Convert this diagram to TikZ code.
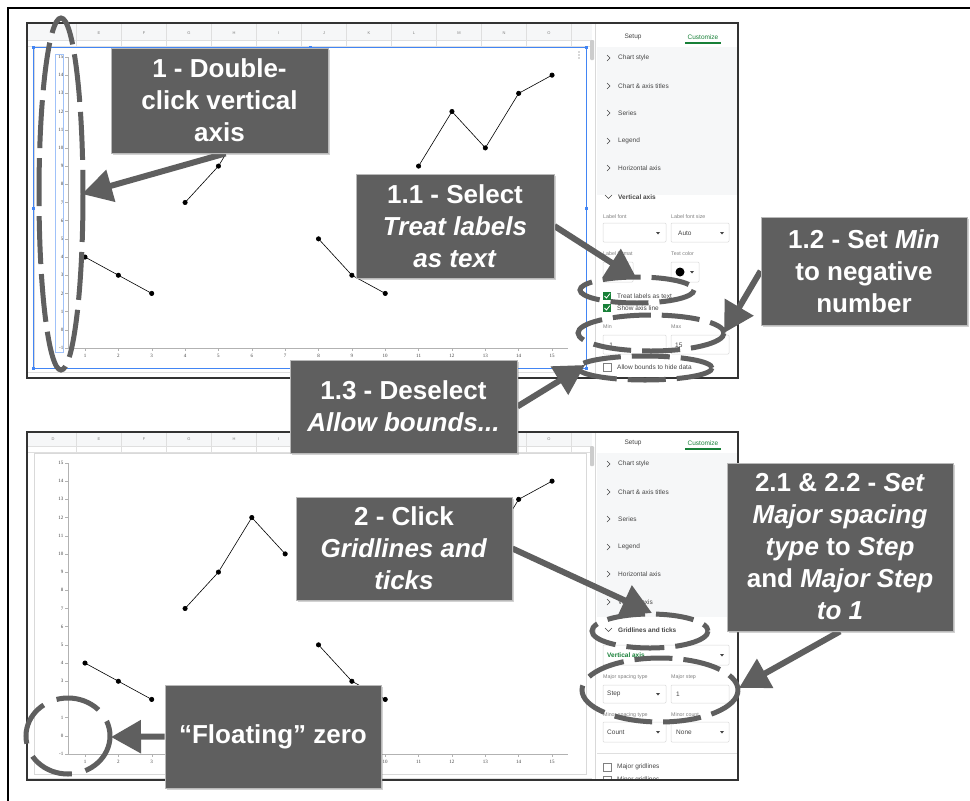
\documentclass[tikz,border=0pt]{standalone}
\usepackage{fontspec}
\setmainfont{Liberation Sans}
\newfontfamily\chartfont{Liberation Serif}
\usetikzlibrary{arrows.meta, shadows}
\pgfdeclarelayer{front}
\pgfsetlayers{main,front}

\definecolor{calloutgray}{RGB}{95,95,95}
\definecolor{sheetgreen}{RGB}{24,128,56}
\definecolor{selblue}{RGB}{66,133,244}
\definecolor{paneltext}{RGB}{70,70,70}
\definecolor{panelbg}{RGB}{246,247,248}

\tikzset{
  callout/.style={fill=calloutgray, draw=gray!55, line width=0.8pt, text=white,
    align=center, inner sep=0pt, font=\bfseries\fontsize{26}{32}\selectfont,
    drop shadow={opacity=0.35, shadow xshift=2pt, shadow yshift=-2pt}},
  pointer/.style={draw=calloutgray, line width=6pt, -{Triangle[length=30pt,width=32pt]}},
  ring/.style={draw=calloutgray, line width=5pt, dash pattern=on 38pt off 11pt},
  item/.style={anchor=west, text=paneltext, inner sep=0pt, font=\fontsize{6.5}{7}\selectfont},
  fieldlabel/.style={anchor=west, text=gray, inner sep=0pt, font=\fontsize{5.3}{6}\selectfont},
  field/.style={draw=gray!30, rounded corners=1pt, line width=0.5pt},
  ticklabel/.style={inner sep=0pt, text=gray!50!black, font=\chartfont\fontsize{5}{5}\selectfont},
  colletter/.style={inner sep=0pt, text=gray, font=\fontsize{4}{4}\selectfont},
}

% little widgets of the side panel
\newcommand\ddarrow[1]{\fill[paneltext] (#1) ++(-2,-1) -- ++(4,0) -- ++(-2,2.5) -- cycle;}
\newcommand\checkon[1]{\fill[sheetgreen] (#1) ++(-4,-4) rectangle ++(8,8);
  \draw[white, line width=0.8pt] (#1) ++(-2.5,0) -- ++(2,2) -- ++(3.5,-4.5);}
\newcommand\checkoff[1]{\draw[gray, line width=0.6pt] (#1) ++(-4,-4) rectangle ++(8,8);}

\begin{document}
\begin{tikzpicture}[x=1pt, y=-1pt]
  \useasboundingbox (0,0) rectangle (970,801);
  \fill[white] (0,0) rectangle (970,801);
  \draw[line width=2.5pt] (8,801) -- (8,8) -- (971,8);

  % the two screenshots share sheet, chart and panel list
  \foreach \dy/\ytop/\ybot in {0/23/378, 406/26/374} {
    \begin{scope}[shift={(0,\dy)}]
      \begin{scope}
        \clip (27,\ytop) rectangle (738,\ybot);
        \fill[panelbg] (27,\ytop) rectangle (592,40);
        \draw[gray!25] (27,40) -- (592,40) (27,46) -- (592,46) (27,372) -- (592,372);
        \foreach \cx in {76.5,121.5,...,571.5}
          \draw[gray!25] (\cx,\ytop) -- (\cx,46);
        \foreach \col [count=\i] in {E,F,G,H,I,J,K,L,M,N,O}
          \node[colletter] at (54+45*\i,33) {\col};
        % chart
        \draw[gray!30] (34,47) rectangle (586,368);
        \draw[gray!60, line width=0.4pt] (68,57) -- (68,348) -- (568,348);
        \foreach \v in {-1,...,15} {
          \draw[gray!60, line width=0.4pt] (65,{329.8-18.19*\v}) -- (68,{329.8-18.19*\v});
          \node[ticklabel, anchor=east] at (63.5,{329.8-18.19*\v}) {\v};
        }
        \foreach \n in {1,...,15} {
          \draw[gray!60, line width=0.4pt] ({51.64+33.36*\n},348) -- ++(0,3);
          \node[ticklabel] at ({51.64+33.36*\n},356) {\n};
        }
        \begin{scope}[shift={(51.64,329.8)}, x=33.36pt, y=18.19pt]
          \draw[line width=0.6pt] plot[mark=*, mark size=2.2pt] coordinates {(1,4) (2,3) (3,2)};
          \draw[line width=0.6pt] plot[mark=*, mark size=2.2pt] coordinates {(4,7) (5,9) (6,12) (7,10)};
          \draw[line width=0.6pt] plot[mark=*, mark size=2.2pt] coordinates {(8,5) (9,3) (10,2)};
          \draw[line width=0.6pt] plot[mark=*, mark size=2.2pt] coordinates {(11,9) (12,12) (13,10) (14,13) (15,14)};
        \end{scope}
        % side panel
        \fill[gray!40, rounded corners=1pt] (590,40) rectangle (594,60);
        \fill[white] (595,\ytop) rectangle (738,\ybot);
        \draw[gray!30] (595,\ytop) -- (595,\ybot);
        \fill[panelbg] (597,47) rectangle (737,195);
        \node[item, anchor=center] at (633,37) {Setup};
        \node[item, anchor=center, text=sheetgreen] at (703,37) {Customize};
        \draw[sheetgreen, line width=1.2pt] (685,43) -- (721,43);
        \foreach \y/\name in {58/Chart style, 86/Chart \& axis titles, 113/Series,
                              141/Legend, 168/Horizontal axis} {
          \draw[paneltext, line width=0.5pt] (607,\y-3) -- (610,\y) -- (607,\y+3);
          \node[item] at (618,\y) {\name};
        }
      \end{scope}
    \end{scope}
  }

  % first screenshot: chart selected, vertical axis open
  \draw[selblue, line width=0.6pt] (33,47) rectangle (586,368);
  \foreach \hx/\hy in {33/47, 310/47, 586/47, 33/208, 586/208, 33/368, 310/368, 586/368}
    \fill[selblue] (\hx-1.5,\hy-1.5) rectangle ++(3,3);
  \draw[selblue!50, line width=0.4pt] (55,54) rectangle (63,352);
  \foreach \dd in {52,55,58} \fill[gray!70!black] (579,\dd) circle (0.7);
  \draw[paneltext, line width=0.6pt] (605,195) -- (608.5,198.5) -- (612,195);
  \node[item, font=\bfseries\fontsize{6.5}{7}\selectfont] at (618,197) {Vertical axis};
  \node[fieldlabel] at (603,217) {Label font};
  \node[fieldlabel] at (671,217) {Label font size};
  \draw[field] (603,223) rectangle (666,242); \ddarrow{658,233}
  \draw[field] (671,223) rectangle (729,242); \ddarrow{722,233}
  \node[item] at (678,233) {Auto};
  \node[fieldlabel] at (603,254) {Label format};
  \node[fieldlabel] at (671,254) {Text color};
  \draw[field] (603,262) rectangle (633,282);
  \draw[field] (671,262) rectangle (699,282); \ddarrow{692,272}
  \fill (680,272) circle (4.5);
  \checkon{607,296} \node[item] at (617,296) {Treat labels as text};
  \checkon{607,308} \node[item] at (617,308) {Show axis line};
  \node[fieldlabel] at (603,327) {Min};
  \node[fieldlabel] at (671,327) {Max};
  \draw[field] (603,335) rectangle (666,354); \node[item] at (607,345) {-1};
  \draw[field] (671,335) rectangle (729,354); \node[item] at (675,345) {15};
  \checkoff{607,367} \node[item] at (617,367) {Allow bounds to hide data};

  % second screenshot: gridlines and ticks open
  \node[colletter] at (53,439) {D};
  \begin{scope}
    \clip (27,432) rectangle (738,780);
    \fill[panelbg] (597,595) rectangle (737,617);
    \draw[paneltext, line width=0.5pt] (607,599) -- (610,602) -- (607,605);
    \node[item] at (618,602) {Vertical axis};
    \draw[paneltext, line width=0.6pt] (605,628) -- (608.5,631.5) -- (612,628);
    \node[item, font=\bfseries\fontsize{6.5}{7}\selectfont] at (618,630) {Gridlines and ticks};
    \draw[field] (603,645) rectangle (729,665); \ddarrow{722,655}
    \node[item, text=sheetgreen, font=\bfseries\fontsize{6.5}{7}\selectfont] at (607,655) {Vertical axis};
    \node[fieldlabel] at (603,677) {Major spacing type};
    \node[fieldlabel] at (671,677) {Major step};
    \draw[field] (603,685) rectangle (666,703); \ddarrow{658,694}
    \node[item] at (607,694) {Step};
    \draw[field] (671,685) rectangle (729,703); \node[item] at (676,694) {1};
    \node[fieldlabel] at (603,715) {Minor spacing type};
    \node[fieldlabel] at (671,715) {Minor count};
    \draw[field] (603,722) rectangle (666,742); \ddarrow{658,732}
    \node[item] at (607,732) {Count};
    \draw[field] (671,722) rectangle (729,742); \ddarrow{722,732}
    \node[item] at (676,732) {None};
    \draw[gray!25] (597,753) -- (737,753);
    \checkoff{607,767} \node[item] at (617,767) {Major gridlines};
    \checkoff{607,780} \node[item] at (617,780) {Minor gridlines};
  \end{scope}

  \draw[line width=1.2pt, black!80] (27,23) rectangle (738,378);
  \draw[line width=1.2pt, black!80] (27,432) rectangle (738,780);

  % rings round the settings
  \draw[ring, dash pattern=on 48pt off 10pt] (61,194) ellipse [x radius=22, y radius=176];
  \draw[ring] (637,290) ellipse [x radius=57, y radius=13];
  \draw[ring] (651,333) ellipse [x radius=73, y radius=18];
  \draw[ring] (645,368) ellipse [x radius=67, y radius=12];
  \draw[ring] (650,631) ellipse [x radius=58, y radius=17];
  \draw[ring] (660,690) ellipse [x radius=78, y radius=32];
  \draw[ring, dash pattern=on 45pt off 14pt] (68,736) ellipse [x radius=42, y radius=38];

  % callouts
  \begin{pgfonlayer}{front}
    \node[callout, minimum width=217pt, minimum height=105pt] (dbl) at (219.5,100.5)
      {1 - Double-\\click vertical\\axis};
    \node[callout, minimum width=198pt, minimum height=104pt] (treat) at (455,226)
      {1.1 - Select\\\textit{Treat labels}\\\textit{as text}};
    \node[callout, minimum width=206pt, minimum height=108pt] (setmin) at (864,271)
      {1.2 - Set \textit{Min}\\to negative\\number};
    \node[callout, minimum width=227pt, minimum height=93pt] (deselect) at (403.5,406.5)
      {1.3 - Deselect\\\textit{Allow bounds...}};
    \node[callout, minimum width=216pt, minimum height=103pt] (gridclick) at (404,548.5)
      {2 - Click\\\textit{Gridlines and}\\\textit{ticks}};
    \node[callout, minimum width=226pt, minimum height=168pt] (stepset) at (840,547)
      {2.1 \& 2.2 - \textit{Set}\\\textit{Major spacing}\\\textit{type} to \textit{Step}\\and \textit{Major Step}\\\textit{to 1}};
    \node[callout, minimum width=216pt, minimum height=103pt] (floatzero) at (273,736.5)
      {“Floating” zero};
  \end{pgfonlayer}

  \coordinate (axistip) at (82,194);
  \coordinate (treattip) at (637,279);
  \coordinate (mintip) at (724,333);
  \coordinate (boundstip) at (585,365);
  \coordinate (gridtip) at (652,613);
  \coordinate (steptip) at (739,688);
  \coordinate (zerotip) at (111,737);

  \draw[pointer] ([xshift=6pt]dbl.south) -- (axistip);
  \draw[pointer] (treat.east) -- (treattip);
  \draw[pointer] (setmin.west) -- (mintip);
  \draw[pointer] (deselect.east) -- (boundstip);
  \draw[pointer] (gridclick.east) -- (gridtip);
  \draw[pointer] (stepset.south) -- (steptip);
  \draw[pointer] (floatzero.west) -- (zerotip);
\end{tikzpicture}
\end{document}
